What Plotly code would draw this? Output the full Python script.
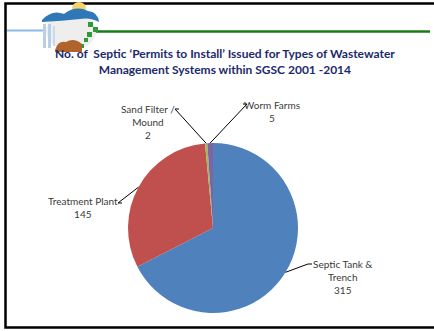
import math
import plotly.graph_objects as go

# Permit counts by wastewater management system type
labels = ["Septic Tank &<br>Trench", "Treatment Plant", "Sand Filter /<br>Mound", "Worm Farms"]
values = [315, 145, 2, 5]
colors = ["#4F81BD", "#C0504D", "#9BBB59", "#8064A2"]

W, H = 434, 331
title_text = ("No. of  Septic \u2018Permits to Install\u2019 Issued for Types of Wastewater<br>"
              "Management Systems within SGSC 2001 -2014")


def px(x):
    return x / W


def py(y):
    return 1 - y / H


# pie placement (pixels)
CX, CY, R = 213, 228, 85

fig = go.Figure()
fig.add_trace(go.Pie(
    labels=labels, values=values, sort=False, direction="clockwise", rotation=0,
    marker=dict(colors=colors, line=dict(width=0)),
    textinfo="none", hoverinfo="label+value", showlegend=False,
    domain=dict(x=[px(CX - R), px(CX + R)], y=[py(CY + R), py(CY - R)]),
))

# label text positions (pixels: centre x, top y) and where the leader meets the text
label_pos = [(343, 256), (83, 193), (148, 101), (272, 97)]
leader_end = [(312, 264), (122, 203), (179, 109), (243, 104)]
leader_dir = [1, 1, 1, -1]

total = sum(values)
shapes = []
annotations = []
cum = 0
for lab, val, (lx, ly), (ex, ey), d in zip(labels, values, label_pos, leader_end, leader_dir):
    mid = (cum + val / 2) / total * 2 * math.pi
    cum += val
    tx = CX + R * math.sin(mid)
    ty = CY - R * math.cos(mid)
    kx = ex - 4 * d
    shapes.append(dict(
        type="path", xref="paper", yref="paper",
        path=f"M {px(tx)},{py(ty)} L {px(kx)},{py(ey)} L {px(ex)},{py(ey)}",
        line=dict(color="#000000", width=1),
    ))
    annotations.append(dict(
        x=px(lx), y=py(ly), xref="paper", yref="paper", xanchor="center", yanchor="top",
        text=f"{lab}<br>{val}", showarrow=False, align="center",
        font=dict(family="Lato, Open Sans, sans-serif", size=10, color="#3a3a3a"),
    ))

# title
annotations.append(dict(
    x=px(225), y=py(44), xref="paper", yref="paper", xanchor="center", yanchor="top",
    text=f"<b>{title_text}</b>", showarrow=False, align="center",
    font=dict(family="Lato, Open Sans, sans-serif", size=12, color="#1c2a6b"),
))

# slide frame and header rules
shapes += [
    dict(type="rect", xref="paper", yref="paper", x0=px(5.5), x1=px(440), y0=py(327.5), y1=py(3.5),
         line=dict(color="#000000", width=2.5), fillcolor="rgba(0,0,0,0)"),
    dict(type="line", xref="paper", yref="paper", x0=px(7), x1=px(44), y0=py(30.5), y1=py(30.5),
         line=dict(color="#8fb8e8", width=2)),
    dict(type="line", xref="paper", yref="paper", x0=px(95), x1=px(430), y0=py(31.5), y1=py(31.5),
         line=dict(color="#1a7a1a", width=2.5)),
]

# emblem
emblem = [
    # sun
    dict(type="circle", x0=72, x1=86, y0=2, y1=14, fill="#f3d36b"),
    # pale oval body
    dict(type="circle", x0=46, x1=96, y0=12, y1=50, fill="#eeeeee"),
    # blue hills
    dict(type="path", path="M 42,20 Q 52,9 64,14 Q 76,5 88,11 Q 98,12 99,22 Q 90,17 80,19 Q 62,21 42,22 Z",
         fill="#2f78b8"),
    # water strips
    dict(type="rect", x0=43, x1=46, y0=24, y1=48, fill="#b9cfe8"),
    dict(type="rect", x0=48, x1=51, y0=24, y1=48, fill="#b9cfe8"),
    dict(type="rect", x0=53, x1=55, y0=26, y1=46, fill="#c9d9ee"),
    # green checker
    dict(type="rect", x0=88, x1=93, y0=22, y1=27, fill="#2e9a3a"),
    dict(type="rect", x0=93, x1=98, y0=27, y1=32, fill="#2e9a3a"),
    dict(type="rect", x0=87, x1=92, y0=32, y1=37, fill="#2e9a3a"),
    dict(type="rect", x0=84, x1=88, y0=38, y1=42, fill="#2e9a3a"),
    dict(type="rect", x0=80, x1=84, y0=44, y1=48, fill="#2e9a3a"),
    # animals
    dict(type="path", path="M 55,50 Q 58,40 66,42 Q 74,37 82,44 L 82,52 L 55,52 Z", fill="#b0642c"),
]
for s in emblem:
    base = dict(xref="paper", yref="paper", line=dict(width=0), fillcolor=s["fill"])
    if s["type"] == "path":
        out = []
        for tok in s["path"].split():
            if "," in tok:
                a, b = tok.split(",")
                out.append(f"{px(float(a))},{py(float(b))}")
            else:
                out.append(tok)
        base.update(type="path", path=" ".join(out))
    else:
        base.update(type=s["type"], x0=px(s["x0"]), x1=px(s["x1"]), y0=py(s["y1"]), y1=py(s["y0"]))
    shapes.append(base)

fig.update_layout(
    width=W, height=H, margin=dict(l=0, r=0, t=0, b=0),
    paper_bgcolor="#ffffff", plot_bgcolor="#ffffff",
    shapes=shapes, annotations=annotations,
)

fig.write_html("out.html")
